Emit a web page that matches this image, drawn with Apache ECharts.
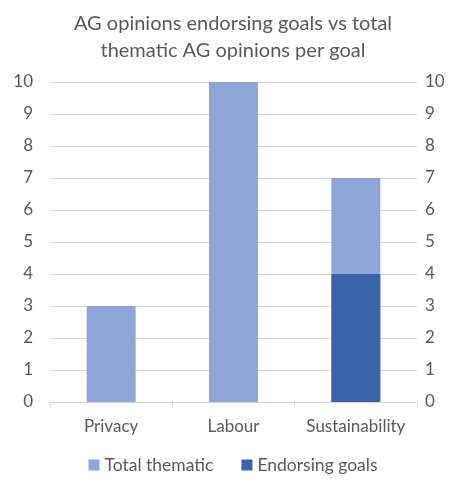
<!DOCTYPE html>
<html>
<head>
<meta charset="utf-8">
<script src="https://cdn.jsdelivr.net/npm/echarts@6/dist/echarts.min.js"></script>
<style>
  html, body { margin: 0; padding: 0; background: #fff; }
  #chart { width: 466px; height: 481px; }
</style>
</head>
<body>
<div id="chart"></div>
<script>
// Goals and counts of Advocate General opinions
const categories = ['Privacy', 'Labour', 'Sustainability'];
const totalThematic = [3, 10, 7];
const endorsingGoals = [0, 0, 4];
const yTicks = { min: 0, max: 10, interval: 1 };

const textColor = '#595959';
const fontFamily = 'Lato, "Open Sans", sans-serif';

const chart = echarts.init(document.getElementById('chart'));
chart.setOption({
  animation: false,
  textStyle: { fontFamily: fontFamily },
  title: {
    text: 'AG opinions endorsing goals vs total\nthematic AG opinions per goal',
    left: 'center',
    top: 5,
    textStyle: { color: textColor, fontSize: 20, fontWeight: 'normal', lineHeight: 27, fontFamily: fontFamily }
  },
  legend: {
    bottom: 2,
    left: 'center',
    itemWidth: 11,
    itemHeight: 11,
    itemGap: 28,
    icon: 'rect',
    textStyle: { color: textColor, fontSize: 17.5, fontFamily: fontFamily },
    data: ['Total thematic', 'Endorsing goals']
  },
  grid: { left: 50, right: 49, top: 82, bottom: 79, containLabel: false },
  xAxis: {
    type: 'category',
    data: categories,
    axisLine: { lineStyle: { color: '#d9d9d9' } },
    axisTick: { show: true, alignWithLabel: false, length: 5, lineStyle: { color: '#d9d9d9' } },
    axisLabel: { color: textColor, fontSize: 17, margin: 16, interval: 0, hideOverlap: false, fontFamily: fontFamily }
  },
  yAxis: [
    {
      type: 'value', min: yTicks.min, max: yTicks.max, interval: yTicks.interval,
      axisLine: { show: false }, axisTick: { show: false },
      splitLine: { lineStyle: { color: '#d9d9d9' } },
      axisLabel: { color: textColor, fontSize: 17, margin: 17, fontFamily: fontFamily }
    },
    {
      type: 'value', min: yTicks.min, max: yTicks.max, interval: yTicks.interval,
      position: 'right',
      axisLine: { show: false }, axisTick: { show: false },
      splitLine: { show: false },
      axisLabel: { color: textColor, fontSize: 17, margin: 8, fontFamily: fontFamily }
    }
  ],
  series: [
    {
      name: 'Total thematic',
      type: 'bar',
      data: totalThematic,
      barWidth: '40%',
      barGap: '-100%',
      itemStyle: { color: '#8fa5d6' }
    },
    {
      name: 'Endorsing goals',
      type: 'bar',
      data: endorsingGoals,
      barWidth: '40%',
      barGap: '-100%',
      itemStyle: { color: '#3b63ac' }
    }
  ]
});
</script>
</body>
</html>
